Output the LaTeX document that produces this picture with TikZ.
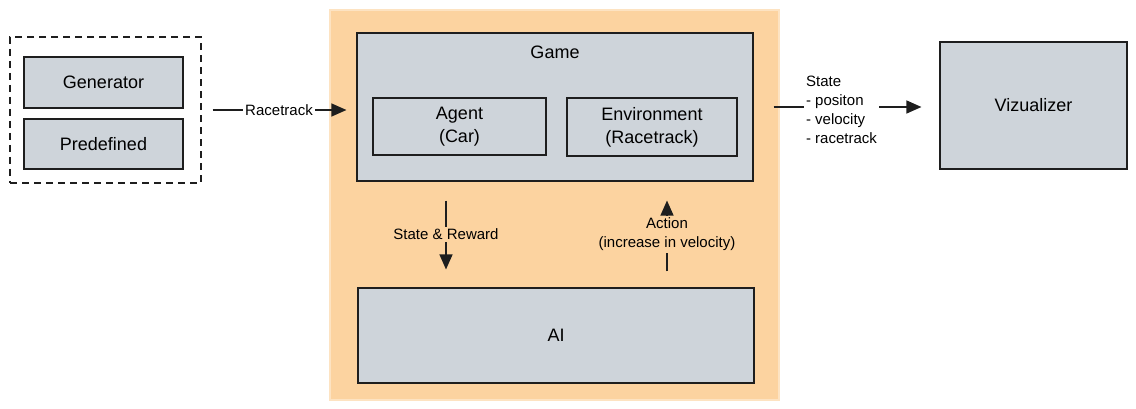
\documentclass[tikz,border=0pt]{standalone}
\usepackage{fontspec}
\setmainfont{Liberation Sans}
\usepackage{tikz}
\usetikzlibrary{arrows.meta}
\usetikzlibrary{positioning}
\definecolor{boxgray}{HTML}{CED4DA}
\definecolor{loopfill}{HTML}{FCD3A0}
\definecolor{loopedge}{HTML}{FDE3C2}
\definecolor{ink}{HTML}{1E1E1E}
\tikzset{
box/.style={draw=ink, fill=boxgray, line width=1.1pt, inner sep=0pt, font=\fontsize{18}{23}\selectfont, align=center},
flow/.style={draw=ink, line width=1.2pt, -{Triangle[length=15pt,width=13pt]}},
flowlabel/.style={font=\fontsize{15}{19}\selectfont, inner sep=2pt}}

\begin{document}
\begin{tikzpicture}[x=1pt,y=-1pt]

                \useasboundingbox (0,0) rectangle (1136,409);

                \node[draw=ink, dashed, line width=1.1pt, dash pattern=on 7pt off 5pt, minimum width=191pt, minimum height=146pt] (src) at (105.5,110) {};
                \node[box, minimum width=159pt, minimum height=51pt] (gen) at (103.5,82.5) {Generator};
                \node[box, minimum width=159pt, minimum height=50pt] (pre) at (103.5,144) {Predefined};

                \node[draw=loopedge, fill=loopfill, line width=1.5pt, minimum width=449pt, minimum height=390pt] (loop) at (554.5,205) {};

                \node[box, minimum width=396pt, minimum height=148pt] (game) at (555,107) {};
                \node[font=\fontsize{18}{23}\selectfont] (gametitle) at (555,52) {Game};
                \node[box, minimum width=173pt, minimum height=57pt] (agent) at (459.5,126.5) {Agent\\(Car)};
                \node[box, minimum width=170pt, minimum height=58pt] (env) at (652,127) {Environment\\(Racetrack)};

                \node[box, minimum width=396pt, minimum height=95pt] (ai) at (556,335.5) {AI};

                \node[box, minimum width=187pt, minimum height=127pt] (viz) at (1033.5,105.5) {Vizualizer};

                \coordinate (down) at (446,0);
                \coordinate (up) at (667,0);

                \draw[flow, shorten <=11pt, shorten >=10pt] (src.east) -- (src.east -| game.west) node[midway, flowlabel, fill=white] {Racetrack};
                \draw[flow, shorten <=20pt, shorten >=18pt] (game.east) -- (game.east -| viz.west) node[midway, flowlabel, fill=white, align=left, xshift=-5pt, yshift=-3pt] {State\\- positon\\- velocity\\- racetrack};
                \draw[flow, shorten <=19pt, shorten >=18pt] (game.south -| down) -- (ai.north -| down) node[midway, flowlabel, fill=loopfill] {State \& Reward};
                \draw[flow, shorten <=16pt, shorten >=19pt] (ai.north -| up) -- (game.south -| up) node[midway, flowlabel, fill=loopfill, align=center] {Action\\(increase in velocity)};

            \end{tikzpicture}
\end{document}
